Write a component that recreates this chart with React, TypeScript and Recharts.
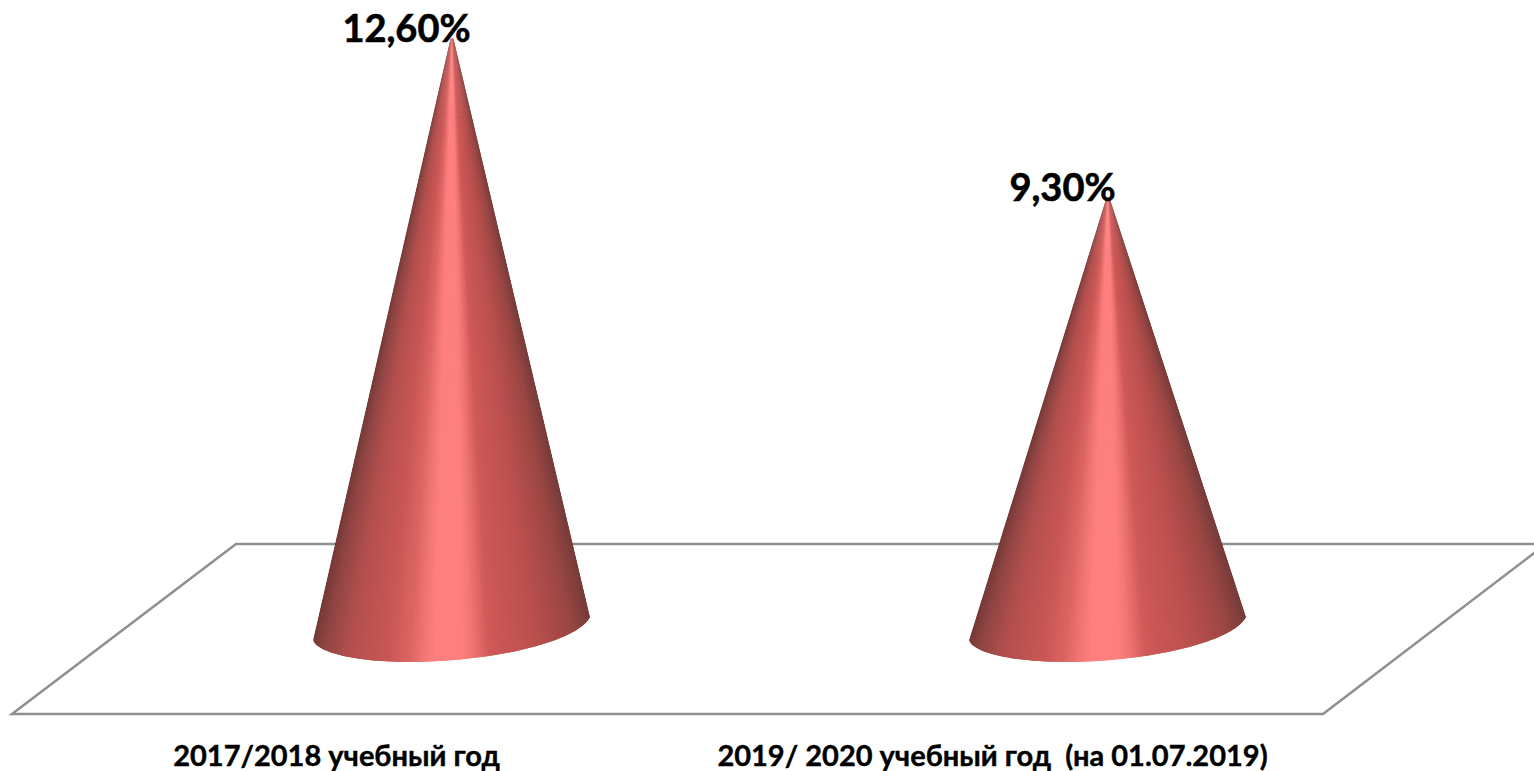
import React from 'react';
import { BarChart, Bar, XAxis, YAxis, LabelList, usePlotArea } from 'recharts';

const categories = ['2017/2018 учебный год', '2019/ 2020 учебный год  (на 01.07.2019)'];
const values = [12.6, 9.3];
const valueLabels = ['12,60%', '9,30%'];

const chartData = categories.map((name, i) => ({ name, value: values[i], label: valueLabels[i] }));

const WIDTH = 1534;
const HEIGHT = 771;
const FONT = 'Lato, "Open Sans", sans-serif';

// Colours round the cone, left edge to right edge
const SHADES: [number, string][] = [
  [0, '#743836'],
  [0.05, '#8f4543'],
  [0.14, '#b24f4d'],
  [0.28, '#c95755'],
  [0.36, '#dd6663'],
  [0.4, '#ef7472'],
  [0.44, '#fd7f7e'],
  [0.54, '#fd7f7e'],
  [0.58, '#ec7270'],
  [0.63, '#cf5a58'],
  [0.66, '#cb5755'],
  [0.8, '#b84f4d'],
  [0.92, '#9a4643'],
  [1, '#743c39'],
];

const mix = (a: string, b: string, t: number) => {
  const ch = (s: string, i: number) => parseInt(s.slice(1 + i * 2, 3 + i * 2), 16);
  const out = [0, 1, 2].map((i) => Math.round(ch(a, i) + (ch(b, i) - ch(a, i)) * t));
  return `rgb(${out.join(',')})`;
};

const shadeAt = (t: number) => {
  for (let i = 1; i < SHADES.length; i++) {
    if (t <= SHADES[i][0]) {
      const [p, c] = SHADES[i - 1];
      return mix(c, SHADES[i][1], (t - p) / (SHADES[i][0] - p));
    }
  }
  return SHADES[SHADES.length - 1][1];
};

const SLICES = 80;
const TIP = 3;

const Cone = (props: any) => {
  const { x, y, width, height, index } = props;
  const base = y + height;
  const apexX = x + width / 2 + 0.5;
  const lx = x;
  const ly = base - 5;
  const rx = x + width;
  const ry = base - 28;
  const u = width / 277;
  const outline =
    `M${apexX - TIP / 2} ${y + 1} Q${apexX} ${y - 1} ${apexX + TIP / 2} ${y + 1} L${rx} ${ry} ` +
    `C${lx + 262 * u} ${base} ${lx + 167 * u} ${base + 17} ${lx + 97 * u} ${base + 17} ` +
    `C${lx + 45 * u} ${base + 17} ${lx + 4 * u} ${base + 8} ${lx} ${ly} Z`;
  const id = `cone-clip-${index}`;
  const tx = (t: number) => apexX - TIP / 2 + TIP * t;
  const px = (t: number) => tx(t) + (lx + (rx - lx) * t - tx(t)) * 1.2;
  const py = (t: number) => y + (ly + (ry - ly) * t - y) * 1.2;
  const slices = [];
  for (let i = 0; i < SLICES; i++) {
    const a = i / SLICES;
    // each slice runs on under the next one so no seams show
    const b = i === SLICES - 1 ? 1 : (i + 2) / SLICES;
    slices.push(
      <polygon
        key={i}
        points={`${tx(a)},${y - 1} ${tx(b)},${y - 1} ${px(b)},${py(b)} ${px(a)},${py(a)}`}
        fill={shadeAt((i + 0.5) / SLICES)}
      />
    );
  }
  return (
    <g>
      <clipPath id={id}>
        <path d={outline} />
      </clipPath>
      <g clipPath={`url(#${id})`}>{slices}</g>
    </g>
  );
};

const ValueLabel = (props: any) => {
  const { x, y, width, value } = props;
  return (
    <text
      x={x + width / 2 - 45}
      y={y + 4}
      textAnchor="middle"
      fontFamily={FONT}
      fontWeight={700}
      fontSize={38}
      fill="#000"
      stroke="#000"
      strokeWidth={0.6}
    >
      {value}
    </text>
  );
};

const CategoryTick = (props: any) => {
  const { x, y, payload } = props;
  return (
    <text
      x={x - 114.5}
      y={y + 113}
      textAnchor="middle"
      fontFamily={FONT}
      fontWeight={700}
      fontSize={29}
      fill="#000"
      stroke="#000"
      strokeWidth={0.4}
      style={{ whiteSpace: 'pre' }}
    >
      {payload.value}
    </text>
  );
};

// Floor of the 3D chart, placed relative to the plot area
const Floor = () => {
  const plot = usePlotArea();
  if (!plot) return null;
  const bottom = plot.y + plot.height;
  const pts = [
    [plot.x + 113, bottom - 101],
    [plot.x + 1423, bottom - 101],
    [plot.x + 1200, bottom + 69],
    [plot.x - 111, bottom + 69],
  ];
  return <polygon points={pts.map((p) => p.join(',')).join(' ')} fill="#fff" stroke="#8f8f8f" strokeWidth={2.5} />;
};

export default function App() {
  return (
    <div style={{ position: 'absolute', left: 0, top: 0, width: WIDTH, height: HEIGHT, background: '#fff', overflow: 'hidden' }}>
      <BarChart
        width={WIDTH}
        height={HEIGHT}
        data={chartData}
        margin={{ top: 38, right: 99, bottom: 0, left: 123 }}
        barSize={277}
      >
        <Floor />
        <XAxis dataKey="name" axisLine={false} tickLine={false} tick={<CategoryTick />} height={126} interval={0} />
        <YAxis hide domain={[0, 12.6]} />
        <Bar dataKey="value" shape={<Cone />} isAnimationActive={false}>
          <LabelList dataKey="label" content={<ValueLabel />} />
        </Bar>
      </BarChart>
    </div>
  );
}
